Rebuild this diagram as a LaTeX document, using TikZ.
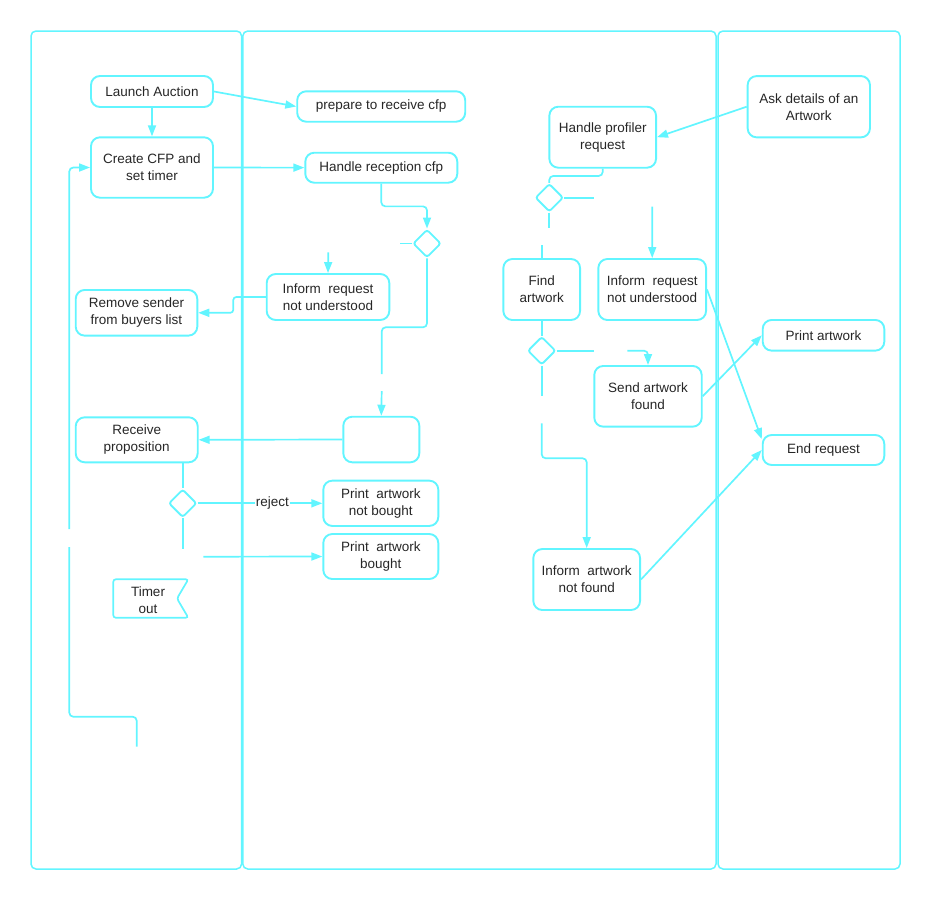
\documentclass[tikz,border=0pt]{standalone}
\usepackage{fontspec}
\setmainfont{Liberation Sans}
\usetikzlibrary{arrows.meta,shapes.geometric,calc}
\definecolor{cy}{HTML}{62F5FF}
\begin{document}
\begin{tikzpicture}[x=1pt,y=-1pt,
  every node/.style={font=\fontsize{13.5}{17}\selectfont, text=black!85},
  box/.style={draw=cy, line width=1.9pt, rounded corners=9pt, align=center, inner sep=0pt},
  dec/.style={draw=cy, line width=1.9pt, diamond, aspect=1, minimum width=28pt, minimum height=28pt, inner sep=0pt, rounded corners=2.5pt},
  line/.style={draw=cy, line width=1.7pt},
  arr/.style={line, -{Triangle[length=11pt,width=8pt]}},
  lane/.style={draw=cy, line width=1.5pt, rounded corners=5pt}]
\useasboundingbox (0,0) rectangle (931,900);
% swimlanes
\draw[lane] (31,31) rectangle (241.6,869);
\draw[lane] (242.8,31) rectangle (716,869);
\draw[lane] (718,31) rectangle (900,869);
% nodes
\node[box, minimum width=122pt, minimum height=31pt] (launch) at (152,91.5) {Launch Auction};
\node[box, minimum width=168pt, minimum height=30.4pt] (prep) at (381.2,106.5) {prepare to receive cfp};
\node[box, minimum width=122pt, minimum height=60.4pt] (create) at (152,167.5) {Create CFP and\\set timer};
\node[box, minimum width=152pt, minimum height=30pt] (hrec) at (381.3,167.7) {Handle reception cfp};
\node[box, minimum width=122.6pt, minimum height=46pt] (inf1) at (328,297) {Inform\ \ request\\not understood};
\node[box, minimum width=121.6pt, minimum height=45.7pt] (remove) at (136.5,312.8) {Remove sender\\from buyers list};
\node[box, minimum width=76pt, minimum height=45.6pt] (empty) at (381.3,439.5) {};
\node[box, minimum width=122pt, minimum height=45pt] (receive) at (136.7,439.8) {Receive\\proposition};
\node[box, minimum width=115pt, minimum height=45.3pt] (nb) at (380.8,503.3) {Print\ \ artwork\\not bought};
\node[box, minimum width=115pt, minimum height=45pt] (bought) at (380.8,556.5) {Print\ \ artwork\\bought};
\node[box, minimum width=106.7pt, minimum height=61pt] (hprof) at (602.7,137.2) {Handle profiler\\request};
\node[box, minimum width=122.3pt, minimum height=61.3pt] (ask) at (808.8,106.7) {Ask details of an\\Artwork};
\node[box, minimum width=76.7pt, minimum height=61pt] (find) at (541.7,289.5) {Find\\artwork};
\node[box, minimum width=107.7pt, minimum height=61pt] (inf2) at (652.2,289.5) {Inform\ \ request\\not understood};
\node[box, minimum width=107.4pt, minimum height=60.7pt] (send) at (648,396.3) {Send artwork\\found};
\node[box, minimum width=121.6pt, minimum height=30.7pt] (print) at (823.5,335.3) {Print artwork};
\node[box, minimum width=121.6pt, minimum height=30pt] (endr) at (823.5,450) {End request};
\node[box, minimum width=106.7pt, minimum height=61pt] (infnf) at (586.7,579.5) {Inform\ \ artwork\\not found};
\node[dec] (d1) at (427,243.5) {};
\node[dec] (d2) at (182.7,503.3) {};
\node[dec] (d3) at (549.3,197.7) {};
\node[dec] (d4) at (541.7,350.7) {};
% timer out
\node[align=center, inner sep=0pt] (timer) at (148,600) {Timer\\out};
\draw[draw=cy, line width=1.7pt, rounded corners=2.5pt] (113.3,579.3) -- (188.3,579.3) -- (177,598.5) -- (188.3,617.7) -- (113.3,617.7) -- cycle;
% free ends
\coordinate (s1) at (328.3,252.3);
\coordinate (s2) at (381.7,391);
\coordinate (s3) at (203.3,556.7);
\coordinate (s4) at (541.7,245);
\coordinate (s5) at (652.3,206.7);
\coordinate (s6) at (627.3,350.7);
\coordinate (s7) at (541.7,423.3);
\coordinate (loopa) at (136.7,746.7);
\coordinate (loopb) at (69.3,529);
% connectors, left and middle
\draw[arr] (launch.east) -- (prep.west);
\draw[arr] (launch) -- (create);
\draw[arr] (create) -- (hrec);
\draw[arr, rounded corners=4pt] (hrec.south) -- ++(0,22.7) -| (d1.north);
\draw[line] (d1.west) -- ++(-12.3,0);
\draw[arr] (s1) -- (inf1.north);
\draw[arr, rounded corners=3pt] (inf1.west) -- (233.3,297) |- (remove.east);
\draw[line, rounded corners=4pt] (d1.south) |- (381.7,327.3) -- (381.7,374);
\draw[arr] (s2) -- (empty.north);
\draw[arr] (empty.west) -- (receive.east);
\draw[line] (d2.north |- receive.south) -- (d2.north);
\draw[arr] (d2.east) -- node[pos=0.6, fill=white, inner sep=1pt] (rej) {reject} (nb.west);
\draw[line] (d2.south) -- ++(0,30.4);
\draw[arr] (s3) -- (bought.west);
\draw[line, rounded corners=4pt] (loopa) |- (69.3,716.7) -- (69.3,547);
\draw[arr, rounded corners=4pt] (loopb) |- (create.west);
% connectors, right
\draw[arr] (ask.west) -- (hprof.east);
\draw[line, rounded corners=4pt] (hprof.south) -- ++(0,7.3) -| (d3.north);
\draw[line] (d3.east) -- ++(29.4,0);
\draw[line] (d3.south) -- ++(0,15.8);
\draw[line] (s4) -- (find.north);
\draw[arr] (s5) -- (inf2.north);
\draw[line] (find.south) -- (d4.north);
\draw[line] (d4.east) -- ++(37,0);
\draw[arr, rounded corners=4pt] (s6) -| (send.north);
\draw[line] (d4.south) -- ++(0,30.3);
\draw[arr, rounded corners=4pt] (s7) -- (541.7,458.3) -| (infnf.north);
\draw[arr] (send.east) -- (print.west);
\draw[arr] (inf2.east) -- (endr.170);
\draw[arr] (infnf.east) -- (endr.west);
\end{tikzpicture}
\end{document}
